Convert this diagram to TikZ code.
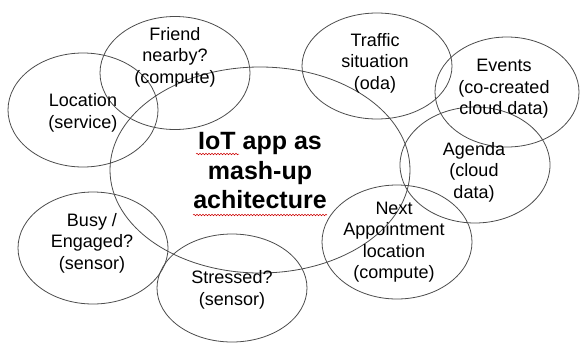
\documentclass[tikz,border=0pt]{standalone}
\usepackage{fontspec}
\setmainfont{Liberation Sans}
\usetikzlibrary{shapes.geometric,decorations.pathmorphing}

\tikzset{
  bubble/.style={draw=black!70, line width=0.8pt, ellipse, inner sep=0pt,
    minimum width=150pt, minimum height=114pt},
  bubbletext/.style={align=center, inner sep=0pt, font=\fontsize{18}{21.5}\selectfont},
  titletext/.style={align=center, inner sep=0pt, font=\fontsize{25}{29.5}\selectfont\bfseries},
  spellmark/.style={draw=red!80!black, line width=0.5pt, decorate,
    decoration={snake, amplitude=0.8pt, segment length=3pt}}
}

\begin{document}
\begin{tikzpicture}[x=1pt, y=-1pt]
    \useasboundingbox (0,0) rectangle (580,343);

    % Central bubble
    \node[bubble, minimum width=300pt, minimum height=206pt] (mashup) at (260,170) {};

    % Surrounding bubbles
    \node[bubble] (location) at (83,110) {};
    \node[bubble, minimum height=113pt] (friend) at (175,73) {};
    \node[bubble, minimum height=106pt] (traffic) at (377,66) {};
    \node[bubble, minimum width=144pt, minimum height=110pt] (events) at (507,92) {};
    \node[bubble, minimum height=116pt] (agenda) at (475,165) {};
    \node[bubble] (nextapp) at (397,242) {};
    \node[bubble, minimum height=112pt] (busy) at (93,248) {};
    \node[bubble, minimum height=108pt] (stressed) at (232,288) {};

    % Texts
    \node[titletext] (mashuptext) at (260,171) {IoT app as\\mash-up\\achitecture};
    \node[bubbletext] (locationtext) at (83,113) {Location\\(service)};
    \node[bubbletext] (friendtext) at (175,57) {Friend\\nearby?\\(compute)};
    \node[bubbletext] (traffictext) at (375,63) {Traffic\\situation\\(oda)};
    \node[bubbletext] (eventstext) at (504,89) {Events\\(co-created\\cloud data)};
    \node[bubbletext] (agendatext) at (474,172) {Agenda\\(cloud\\data)};
    \node[bubbletext] (nextapptext) at (394,242) {Next\\Appointment\\location\\(compute)};
    \node[bubbletext] (busytext) at (92,243) {Busy /\\Engaged?\\(sensor)};
    \node[bubbletext] (stressedtext) at (232,290) {Stressed?\\(sensor)};

    % Spelling marks
    \coordinate (iotleft) at (196,154);
    \coordinate (iotright) at (239,154);
    \coordinate (achileft) at (193,215);
    \coordinate (achiright) at (327,215);
    \draw[spellmark] (iotleft) -- (iotright);
    \draw[spellmark] (achileft) -- (achiright);
\end{tikzpicture}
\end{document}
